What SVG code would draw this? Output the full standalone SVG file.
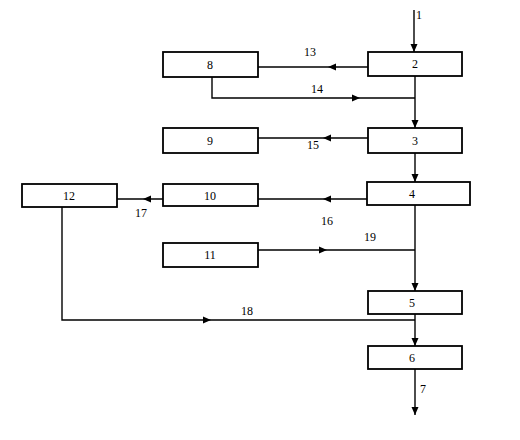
<svg xmlns="http://www.w3.org/2000/svg" xmlns:xlink="http://www.w3.org/1999/xlink" width="520" height="440" viewBox="0 0 520 440">
<style>
.box{fill:#fff;stroke:#000;stroke-width:1.8}
.ln{fill:none;stroke:#000;stroke-width:1.4}
.t{font-family:"Liberation Serif",serif;font-size:12px;fill:#000;text-anchor:middle}
</style>
<defs>
<path id="ah" d="M0,0 L-8,-3.5 L-8,3.5 Z" fill="#000"/>
</defs>
<rect width="520" height="440" fill="#fff"/>
<g id="connectors">
<path class="ln" d="M414,10 V52"/><use xlink:href="#ah" transform="translate(414,52) rotate(90)"/>
<path class="ln" d="M368,67 H258"/><use xlink:href="#ah" transform="translate(328,67) rotate(180)"/>
<path class="ln" d="M212,77 V98 H415"/><use xlink:href="#ah" transform="translate(360,98)"/>
<path class="ln" d="M415,76 V128"/><use xlink:href="#ah" transform="translate(415,128) rotate(90)"/>
<path class="ln" d="M368,138 H258"/><use xlink:href="#ah" transform="translate(323,138) rotate(180)"/>
<path class="ln" d="M415,153 V182"/><use xlink:href="#ah" transform="translate(415,182) rotate(90)"/>
<path class="ln" d="M367,199 H258"/><use xlink:href="#ah" transform="translate(323,199) rotate(180)"/>
<path class="ln" d="M163,199 H117"/><use xlink:href="#ah" transform="translate(143,199) rotate(180)"/>
<path class="ln" d="M258,250 H415"/><use xlink:href="#ah" transform="translate(327,250)"/>
<path class="ln" d="M415,205 V291"/><use xlink:href="#ah" transform="translate(415,291) rotate(90)"/>
<path class="ln" d="M62,207 V320 H415"/><use xlink:href="#ah" transform="translate(211,320)"/>
<path class="ln" d="M415,314 V346"/><use xlink:href="#ah" transform="translate(415,346) rotate(90)"/>
<path class="ln" d="M415,369 V415"/><use xlink:href="#ah" transform="translate(415,415) rotate(90)"/>
<text class="t" x="419" y="19">1</text>
<text class="t" x="310" y="56">13</text>
<text class="t" x="317" y="93">14</text>
<text class="t" x="313" y="149">15</text>
<text class="t" x="327" y="225">16</text>
<text class="t" x="141" y="217">17</text>
<text class="t" x="247" y="315">18</text>
<text class="t" x="370" y="241">19</text>
<text class="t" x="423" y="393">7</text>
</g>
<g id="n2"><rect class="box" x="368" y="52" width="94" height="24"/><text class="t" x="415" y="68">2</text></g>
<g id="n8"><rect class="box" x="163" y="52" width="95" height="25"/><text class="t" x="210" y="69">8</text></g>
<g id="n3"><rect class="box" x="368" y="128" width="94" height="25"/><text class="t" x="415" y="145">3</text></g>
<g id="n9"><rect class="box" x="163" y="128" width="95" height="25"/><text class="t" x="210" y="145">9</text></g>
<g id="n4"><rect class="box" x="367" y="182" width="103" height="23"/><text class="t" x="412" y="198">4</text></g>
<g id="n10"><rect class="box" x="163" y="184" width="95" height="22"/><text class="t" x="210" y="200">10</text></g>
<g id="n12"><rect class="box" x="22" y="184" width="95" height="23"/><text class="t" x="69" y="200">12</text></g>
<g id="n11"><rect class="box" x="163" y="243" width="95" height="24"/><text class="t" x="210" y="259">11</text></g>
<g id="n5"><rect class="box" x="368" y="291" width="94" height="23"/><text class="t" x="412" y="307">5</text></g>
<g id="n6"><rect class="box" x="368" y="346" width="94" height="23"/><text class="t" x="412" y="362">6</text></g>
</svg>
